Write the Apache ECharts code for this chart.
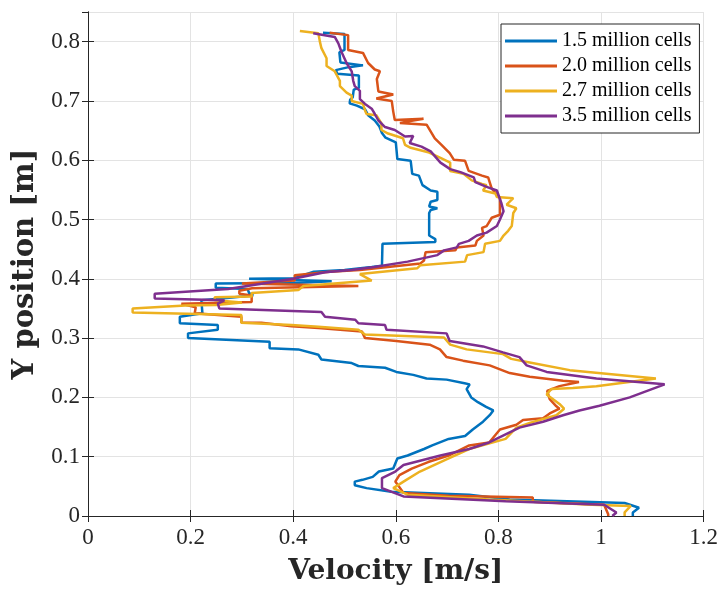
<!DOCTYPE html>
<html>
<head>
<meta charset="utf-8">
<script src="https://cdn.jsdelivr.net/npm/echarts@6/dist/echarts.min.js"></script>
<style>
  html, body { margin: 0; padding: 0; background: #fff; }
  #chart { width: 721px; height: 591px; }
</style>
</head>
<body>
<div id="chart"></div>
<script>
// velocity profiles, read top (y = 0.82) to bottom (y = 0)
const seriesNames = ['1.5 million cells', '2.0 million cells', '2.7 million cells', '3.5 million cells'];
const colorList = ['#0072BD', '#D95319', '#EDB120', '#7E2F8E'];

const vel15 = [0.458, 0.500, 0.500, 0.490, 0.492, 0.536, 0.508, 0.483, 0.486, 0.528, 0.528, 0.518, 0.516, 0.511, 0.510, 0.524, 0.540, 0.546, 0.559, 0.568, 0.573, 0.580, 0.600, 0.603, 0.629, 0.632, 0.645, 0.652, 0.668, 0.681, 0.681, 0.668, 0.665, 0.681, 0.668, 0.665, 0.665, 0.677, 0.677, 0.574, 0.573, 0.553, 0.500, 0.440, 0.402, 0.314, 0.314, 0.475, 0.400, 0.249, 0.249, 0.311, 0.314, 0.322, 0.260, 0.221, 0.223, 0.179, 0.179, 0.253, 0.253, 0.195, 0.195, 0.354, 0.354, 0.410, 0.449, 0.455, 0.514, 0.527, 0.579, 0.601, 0.634, 0.660, 0.699, 0.734, 0.744, 0.738, 0.747, 0.760, 0.776, 0.790, 0.783, 0.770, 0.750, 0.735, 0.703, 0.671, 0.655, 0.623, 0.603, 0.595, 0.567, 0.555, 0.535, 0.520, 0.520, 0.543, 0.591, 0.743, 0.822, 1.046, 1.074, 1.062, 1.062];
const pos15 = [0.815, 0.813, 0.786, 0.782, 0.765, 0.760, 0.757, 0.752, 0.746, 0.743, 0.722, 0.719, 0.706, 0.702, 0.696, 0.692, 0.686, 0.676, 0.667, 0.657, 0.646, 0.638, 0.630, 0.602, 0.599, 0.577, 0.574, 0.558, 0.549, 0.547, 0.533, 0.530, 0.522, 0.519, 0.516, 0.511, 0.473, 0.467, 0.462, 0.459, 0.422, 0.420, 0.415, 0.412, 0.401, 0.400, 0.397, 0.396, 0.393, 0.392, 0.385, 0.383, 0.376, 0.372, 0.367, 0.364, 0.342, 0.336, 0.325, 0.322, 0.314, 0.308, 0.300, 0.294, 0.283, 0.281, 0.272, 0.264, 0.258, 0.253, 0.250, 0.243, 0.238, 0.232, 0.230, 0.224, 0.222, 0.214, 0.200, 0.192, 0.184, 0.178, 0.170, 0.159, 0.146, 0.135, 0.130, 0.119, 0.113, 0.102, 0.097, 0.080, 0.075, 0.066, 0.061, 0.058, 0.052, 0.047, 0.041, 0.036, 0.028, 0.022, 0.014, 0.006, 0.000];

const vel20 = [0.471, 0.507, 0.507, 0.536, 0.546, 0.559, 0.569, 0.563, 0.566, 0.595, 0.562, 0.592, 0.595, 0.598, 0.654, 0.608, 0.660, 0.676, 0.689, 0.705, 0.713, 0.735, 0.742, 0.768, 0.780, 0.787, 0.803, 0.803, 0.787, 0.777, 0.768, 0.771, 0.758, 0.755, 0.719, 0.716, 0.658, 0.655, 0.648, 0.530, 0.471, 0.403, 0.403, 0.300, 0.527, 0.320, 0.295, 0.295, 0.319, 0.319, 0.182, 0.210, 0.208, 0.299, 0.299, 0.338, 0.397, 0.449, 0.534, 0.540, 0.601, 0.666, 0.686, 0.699, 0.731, 0.783, 0.822, 0.861, 0.926, 0.957, 0.919, 0.895, 0.900, 0.913, 0.919, 0.900, 0.887, 0.848, 0.835, 0.803, 0.782, 0.743, 0.703, 0.663, 0.631, 0.607, 0.599, 0.615, 0.703, 0.867, 0.867, 1.006, 1.014, 1.014];
const pos20 = [0.815, 0.811, 0.786, 0.781, 0.764, 0.753, 0.750, 0.737, 0.716, 0.711, 0.704, 0.700, 0.682, 0.668, 0.670, 0.663, 0.660, 0.637, 0.626, 0.612, 0.601, 0.599, 0.582, 0.574, 0.571, 0.552, 0.536, 0.508, 0.503, 0.489, 0.486, 0.473, 0.464, 0.456, 0.453, 0.448, 0.445, 0.431, 0.426, 0.415, 0.412, 0.406, 0.397, 0.392, 0.388, 0.384, 0.380, 0.375, 0.372, 0.361, 0.358, 0.352, 0.342, 0.336, 0.326, 0.326, 0.320, 0.317, 0.311, 0.300, 0.295, 0.289, 0.281, 0.268, 0.262, 0.254, 0.241, 0.235, 0.228, 0.226, 0.219, 0.211, 0.197, 0.185, 0.181, 0.173, 0.165, 0.162, 0.154, 0.146, 0.124, 0.119, 0.102, 0.091, 0.080, 0.069, 0.058, 0.039, 0.034, 0.031, 0.024, 0.019, 0.003, 0.000];

const vel27 = [0.413, 0.449, 0.452, 0.455, 0.465, 0.465, 0.481, 0.491, 0.491, 0.504, 0.514, 0.514, 0.536, 0.540, 0.543, 0.562, 0.572, 0.572, 0.585, 0.614, 0.618, 0.629, 0.665, 0.687, 0.706, 0.706, 0.732, 0.748, 0.768, 0.777, 0.770, 0.794, 0.797, 0.829, 0.816, 0.835, 0.829, 0.826, 0.819, 0.810, 0.803, 0.774, 0.771, 0.739, 0.735, 0.648, 0.642, 0.530, 0.553, 0.420, 0.410, 0.319, 0.319, 0.247, 0.247, 0.300, 0.250, 0.190, 0.087, 0.087, 0.299, 0.299, 0.397, 0.449, 0.527, 0.540, 0.694, 0.706, 0.738, 0.809, 0.825, 0.861, 0.939, 1.107, 0.991, 0.945, 0.903, 0.894, 0.919, 0.928, 0.913, 0.861, 0.835, 0.814, 0.743, 0.703, 0.647, 0.615, 0.595, 0.623, 0.782, 0.982, 1.058, 1.046, 1.046];
const pos27 = [0.818, 0.814, 0.800, 0.789, 0.772, 0.759, 0.750, 0.734, 0.725, 0.714, 0.709, 0.700, 0.695, 0.684, 0.678, 0.676, 0.662, 0.651, 0.645, 0.637, 0.626, 0.621, 0.613, 0.604, 0.596, 0.582, 0.577, 0.566, 0.560, 0.558, 0.549, 0.544, 0.538, 0.536, 0.525, 0.519, 0.511, 0.489, 0.481, 0.473, 0.464, 0.459, 0.445, 0.440, 0.429, 0.423, 0.418, 0.408, 0.397, 0.388, 0.381, 0.376, 0.370, 0.369, 0.364, 0.360, 0.356, 0.355, 0.350, 0.343, 0.339, 0.326, 0.322, 0.319, 0.314, 0.306, 0.301, 0.289, 0.281, 0.273, 0.265, 0.259, 0.246, 0.232, 0.219, 0.216, 0.214, 0.205, 0.189, 0.181, 0.170, 0.157, 0.149, 0.130, 0.113, 0.097, 0.075, 0.058, 0.047, 0.036, 0.028, 0.019, 0.017, 0.006, 0.000];

const vel35 = [0.439, 0.481, 0.488, 0.494, 0.504, 0.514, 0.517, 0.520, 0.530, 0.530, 0.540, 0.553, 0.559, 0.566, 0.579, 0.598, 0.618, 0.634, 0.627, 0.650, 0.668, 0.687, 0.706, 0.726, 0.752, 0.755, 0.777, 0.797, 0.806, 0.810, 0.803, 0.797, 0.777, 0.758, 0.742, 0.723, 0.719, 0.694, 0.681, 0.623, 0.558, 0.513, 0.462, 0.400, 0.273, 0.130, 0.130, 0.266, 0.253, 0.256, 0.455, 0.462, 0.521, 0.527, 0.579, 0.582, 0.699, 0.705, 0.770, 0.809, 0.841, 0.855, 0.894, 0.991, 1.124, 1.056, 0.997, 0.958, 0.926, 0.887, 0.841, 0.782, 0.743, 0.687, 0.615, 0.599, 0.573, 0.573, 0.615, 0.814, 1.006, 1.030, 1.022];
const pos35 = [0.814, 0.808, 0.797, 0.783, 0.764, 0.750, 0.734, 0.725, 0.717, 0.703, 0.695, 0.687, 0.678, 0.667, 0.656, 0.651, 0.640, 0.641, 0.629, 0.623, 0.615, 0.596, 0.585, 0.580, 0.571, 0.563, 0.555, 0.549, 0.527, 0.514, 0.500, 0.489, 0.478, 0.473, 0.464, 0.459, 0.453, 0.448, 0.440, 0.429, 0.420, 0.415, 0.411, 0.400, 0.383, 0.375, 0.367, 0.364, 0.358, 0.350, 0.344, 0.336, 0.331, 0.325, 0.322, 0.314, 0.308, 0.295, 0.286, 0.276, 0.268, 0.254, 0.243, 0.232, 0.222, 0.200, 0.186, 0.178, 0.170, 0.159, 0.149, 0.124, 0.113, 0.102, 0.086, 0.075, 0.064, 0.047, 0.033, 0.025, 0.019, 0.006, 0.000];

const velocities = [vel15, vel20, vel27, vel35];
const positions = [pos15, pos20, pos27, pos35];

const axisColor = '#262626';
const serif = 'Liberation Serif';
const titleFont = 'DejaVu Serif';

let chart = echarts.init(document.getElementById('chart'));

let series = seriesNames.map((name, i) => ({
  name: name,
  type: 'line',
  symbol: 'none',
  data: velocities[i].map((v, k) => [v, positions[i][k]]),
  lineStyle: {width: 2.5, color: colorList[i]},
  itemStyle: {color: colorList[i]}
}));

chart.setOption({
  animation: false,
  color: colorList,
  grid: {left: 88, right: 14, top: 12, bottom: 69},
  legend: {
    orient: 'vertical',
    left: 501,
    top: 24,
    padding: [7, 8, 7, 4],
    icon: 'rect',
    itemWidth: 52,
    itemHeight: 3,
    itemGap: 5,
    backgroundColor: '#fff',
    borderColor: axisColor,
    borderWidth: 1,
    textStyle: {fontFamily: serif, fontSize: 20, color: '#000', lineHeight: 20}
  },
  xAxis: [{
    type: 'value',
    min: 0,
    max: 1.2,
    interval: 0.2,
    name: 'Velocity [m/s]',
    nameLocation: 'middle',
    nameGap: 56,
    nameTextStyle: {fontFamily: titleFont, fontSize: 28, fontWeight: 'bold', color: '#262626', verticalAlign: 'middle'},
    axisLine: {show: true, lineStyle: {color: axisColor, width: 1}},
    axisTick: {show: true, inside: true, length: 6, lineStyle: {color: axisColor}},
    axisLabel: {fontFamily: serif, fontSize: 23, color: '#262626', margin: 10},
    splitLine: {show: true, lineStyle: {color: '#e3e3e3', width: 1}}
  }, {
    type: 'value',
    position: 'top',
    min: 0,
    max: 1.2,
    interval: 0.2,
    axisLine: {show: true, lineStyle: {color: axisColor, width: 1}},
    axisTick: {show: true, inside: true, length: 6, lineStyle: {color: axisColor}},
    axisLabel: {show: false},
    splitLine: {show: false}
  }],
  yAxis: [{
    type: 'value',
    min: 0,
    max: 0.85,
    interval: 0.1,
    name: 'Y position [m]',
    nameLocation: 'middle',
    nameGap: 54,
    nameRotate: 90,
    nameTextStyle: {fontFamily: titleFont, fontSize: 29, fontWeight: 'bold', color: '#262626', verticalAlign: 'middle'},
    axisLine: {show: true, lineStyle: {color: axisColor, width: 1}},
    axisTick: {show: true, inside: true, length: 6, lineStyle: {color: axisColor}},
    axisLabel: {fontFamily: serif, fontSize: 23, color: '#262626', margin: 8, showMaxLabel: false},
    splitLine: {show: true, lineStyle: {color: '#e3e3e3', width: 1}}
  }, {
    type: 'value',
    position: 'right',
    min: 0,
    max: 0.85,
    interval: 0.1,
    axisLine: {show: true, lineStyle: {color: axisColor, width: 1}},
    axisTick: {show: true, inside: true, length: 6, lineStyle: {color: axisColor}},
    axisLabel: {show: false},
    splitLine: {show: false}
  }],
  series: series
});
</script>
</body>
</html>
